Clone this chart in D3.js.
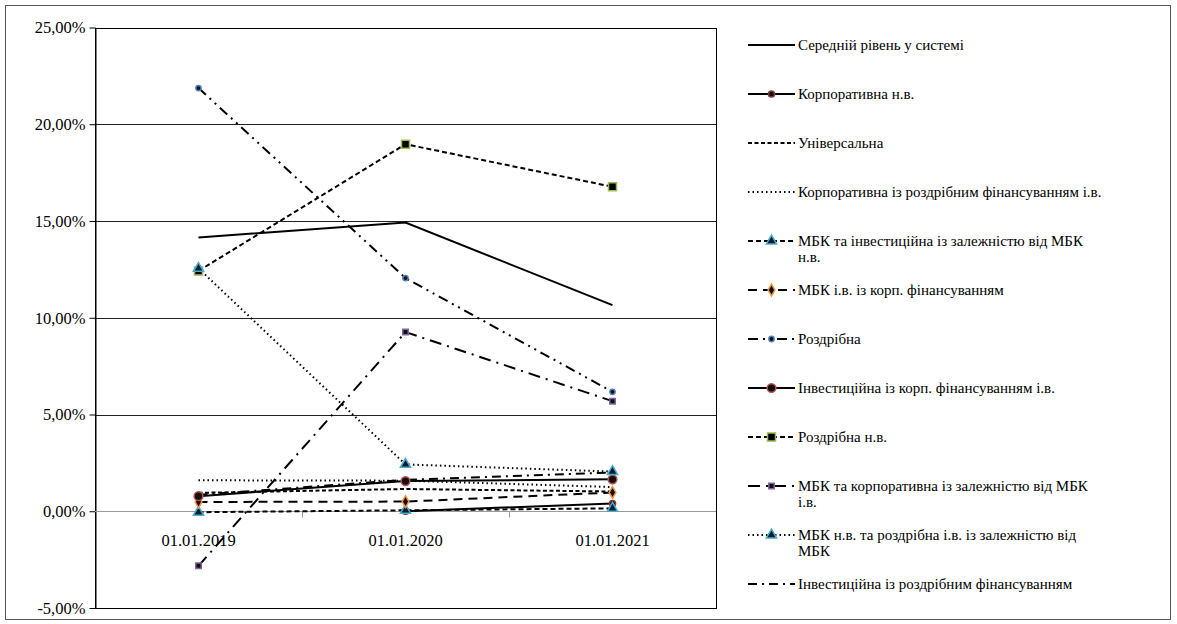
<!DOCTYPE html>
<html lang="uk">
<head>
<meta charset="UTF-8" />
<title>Chart</title>
<script src="https://d3js.org/d3.v7.min.js"></script>
<style>
  body { margin: 0; padding: 0; background: #fff; }
</style>
</head>
<body>
<svg id="chart" width="1177" height="624"></svg>
<script>
// categories and tick values
const categories = ['01.01.2019', '01.01.2020', '01.01.2021'];
const yTicks = [-5, 0, 5, 10, 15, 20, 25];

// series names (legend), "\n" marks the line break
const seriesNames = [
  'Середній рівень у системі',
  'Корпоративна н.в.',
  'Універсальна',
  'Корпоративна із роздрібним фінансуванням і.в.',
  'МБК та інвестиційна із залежністю від МБК\nн.в.',
  'МБК і.в. із корп. фінансуванням',
  'Роздрібна',
  'Інвестиційна із корп. фінансуванням і.в.',
  'Роздрібна н.в.',
  'МБК та корпоративна із залежністю від МБК\nі.в.',
  'МБК н.в. та роздрібна і.в. із залежністю від\nМБК',
  'Інвестиційна із роздрібним фінансуванням'
];

// values in %
const avgSystem     = [14.15, 14.92, 10.65];
const corpNv        = [null, 0.0, 0.4];
const universal     = [0.95, 1.15, 1.02];
const corpRetailIv  = [1.6, 1.58, 1.25];
const mbkInvNv      = [-0.05, 0.05, 0.15];
const mbkIvCorp     = [0.48, 0.5, 0.97];
const retail        = [21.87, 12.05, 6.17];
const invCorpIv     = [0.78, 1.56, 1.65];
const retailNv      = [12.42, 18.97, 16.77];
const mbkCorpIv     = [-2.82, 9.26, 5.69];
const mbkNvRetailIv = [12.55, 2.42, 2.05];
const invRetail     = [0.85, 1.62, 2.0];

const seriesValues = [avgSystem, corpNv, universal, corpRetailIv, mbkInvNv, mbkIvCorp,
  retail, invCorpIv, retailNv, mbkCorpIv, mbkNvRetailIv, invRetail];

// line and marker styles per series
const styles = [
  { dash: null, marker: null },
  { dash: null, marker: { type: 'circle', size: 30, fill: '#111', stroke: '#8b3a3a' } },
  { dash: '4,2.5', marker: null },
  { dash: '1.5,3', marker: null },
  { dash: '5,3', marker: { type: 'triangle', size: 45, fill: '#0a1a3a', stroke: '#4bacc6' } },
  { dash: '9,6', marker: { type: 'diamond', size: 40, fill: '#111', stroke: '#f79646' } },
  { dash: '10,5,2,5,2,5', marker: { type: 'circle', size: 22, fill: '#111', stroke: '#4f81bd' } },
  { dash: null, marker: { type: 'circle', size: 60, fill: '#111', stroke: '#c0504d' } },
  { dash: '5,3', marker: { type: 'square', size: 64, fill: '#000', stroke: '#9bbb59' } },
  { dash: '12,6,2,6', marker: { type: 'square', size: 30, fill: '#111', stroke: '#8064a2' } },
  { dash: '1.5,3', marker: { type: 'triangle', size: 45, fill: '#0a1a3a', stroke: '#4bacc6' } },
  { dash: '9,5,2,5', marker: null }
];

const FONT = 'Liberation Serif';
const svg = d3.select('#chart');
const plot = { left: 95, right: 716, top: 27.5, bottom: 608 };

// outer frame
svg.append('rect').attr('x', 5.5).attr('y', 5.5).attr('width', 1165).attr('height', 614)
  .attr('fill', 'none').attr('stroke', '#555').attr('stroke-width', 1);

const x = d3.scaleBand().domain(categories).range([plot.left, plot.right]);
const xc = (c) => x(c) + x.bandwidth() / 2;
const y = d3.scaleLinear().domain([-5, 25]).range([plot.bottom, plot.top]);

// gridlines
svg.append('g').selectAll('line').data(yTicks.filter((t) => t !== 0)).join('line')
  .attr('x1', plot.left).attr('x2', plot.right)
  .attr('y1', (d) => Math.round(y(d)) + 0.5).attr('y2', (d) => Math.round(y(d)) + 0.5)
  .attr('stroke', '#222').attr('stroke-width', 1);

// plot border
svg.append('rect').attr('x', plot.left + 0.5).attr('y', Math.round(plot.top) + 0.5)
  .attr('width', plot.right - plot.left).attr('height', Math.round(plot.bottom) - Math.round(plot.top))
  .attr('fill', 'none').attr('stroke', '#000').attr('stroke-width', 1);

// y axis
const yAxis = svg.append('g').attr('transform', `translate(${plot.left + 0.5},0)`)
  .call(d3.axisLeft(y).tickValues(yTicks).tickSize(6).tickSizeOuter(0)
    .tickFormat((d) => d.toFixed(2).replace('.', ',') + '%'));
yAxis.select('.domain').attr('stroke', '#000');
yAxis.selectAll('.tick line').attr('stroke', '#000');
yAxis.selectAll('.tick text').attr('x', -10).attr('fill', '#000')
  .style('font-family', FONT).style('font-size', '16.5px');

// x axis at 0%
const y0 = Math.round(y(0)) + 0.5;
svg.append('line').attr('x1', plot.left).attr('x2', plot.right).attr('y1', y0).attr('y2', y0)
  .attr('stroke', '#9a9a9a').attr('stroke-width', 1.2);
svg.append('g').selectAll('line').data(categories.slice(1)).join('line')
  .attr('x1', (d) => Math.round(x(d)) + 0.5).attr('x2', (d) => Math.round(x(d)) + 0.5)
  .attr('y1', y0).attr('y2', y0 + 6).attr('stroke', '#9a9a9a');
svg.append('g').selectAll('text').data(categories).join('text')
  .attr('x', (d) => xc(d)).attr('y', y0 + 34)
  .attr('text-anchor', 'middle')
  .style('font-family', FONT).style('font-size', '16.5px').text((d) => d);

// series lines
const line = d3.line().defined((d) => d.v != null).x((d) => xc(d.c)).y((d) => y(d.v));
const symbolType = { circle: d3.symbolCircle, triangle: d3.symbolTriangle, diamond: d3.symbolDiamond, square: d3.symbolSquare };

const drawMarker = (g, m, cx, cy) => {
  g.append('path').attr('d', d3.symbol().type(symbolType[m.type]).size(m.size)())
    .attr('transform', `translate(${cx},${cy})`)
    .attr('fill', m.fill).attr('stroke', m.stroke).attr('stroke-width', 1.5);
};

const seriesG = svg.append('g');
seriesValues.forEach((vals, i) => {
  const pts = vals.map((v, j) => ({ c: categories[j], v }));
  const st = styles[i];
  seriesG.append('path').datum(pts).attr('d', line)
    .attr('fill', 'none').attr('stroke', '#000').attr('stroke-width', 2)
    .attr('stroke-dasharray', st.dash);
});
seriesValues.forEach((vals, i) => {
  const st = styles[i];
  if (!st.marker) return;
  vals.forEach((v, j) => {
    if (v == null) return;
    drawMarker(seriesG, st.marker, xc(categories[j]), y(v));
  });
});

// legend
const legend = svg.append('g');
seriesNames.forEach((name, i) => {
  const ly = 45 + i * 49;
  const st = styles[i];
  legend.append('line').attr('x1', 748).attr('x2', 795).attr('y1', ly).attr('y2', ly)
    .attr('stroke', '#000').attr('stroke-width', 2).attr('stroke-dasharray', st.dash);
  if (st.marker) drawMarker(legend, st.marker, 771.5, ly);
  const t = legend.append('text').attr('x', 798).attr('y', ly + 5)
    .style('font-family', FONT).style('font-size', '15px');
  name.split('\n').forEach((part, k) => {
    t.append('tspan').attr('x', 798).attr('dy', k === 0 ? 0 : 16).text(part);
  });
});
</script>
</body>
</html>
